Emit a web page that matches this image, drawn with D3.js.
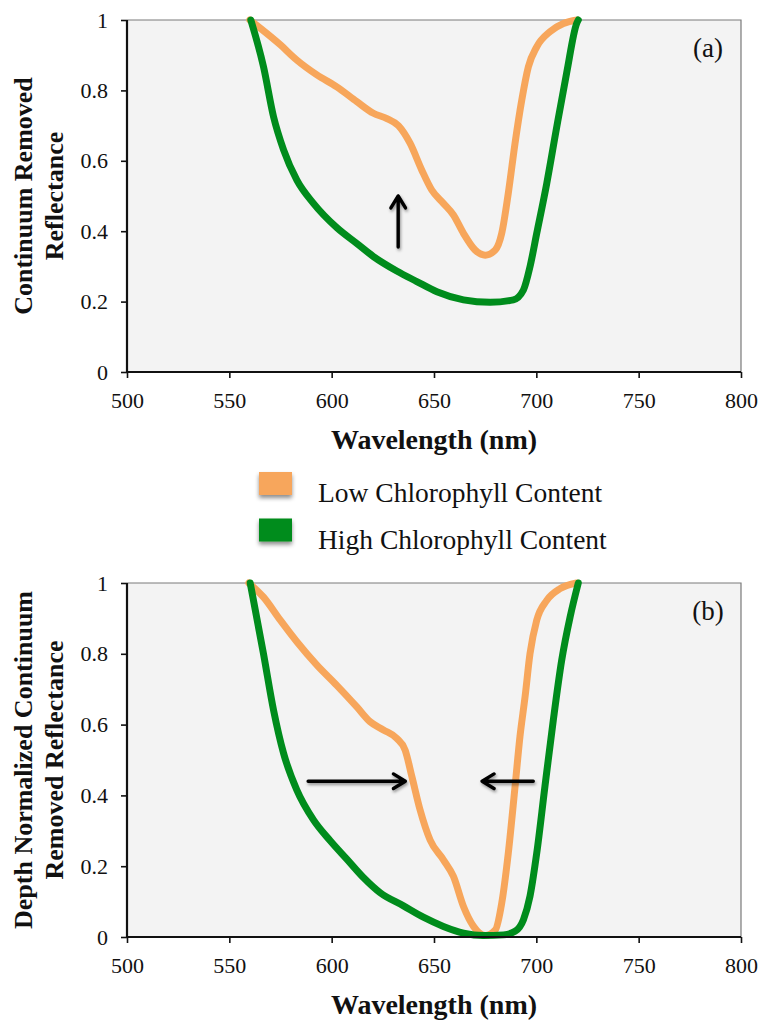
<!DOCTYPE html>
<html>
<head>
<meta charset="utf-8">
<script src="https://cdn.jsdelivr.net/npm/d3@7"></script>
<style>
  html, body { margin: 0; padding: 0; background: #fff; }
  svg { display: block; font-family: "Liberation Serif", "Times New Roman", serif; }
</style>
</head>
<body>
<svg id="chart" width="763" height="1020"></svg>
<script>
// Wavelength (nm) / reflectance samples for each curve
const lowA_wl  = [560, 575, 583, 592.8, 602.5, 612.3, 620.4, 627, 632.6, 638.3, 644, 648.9, 654.6, 659.5, 664.4, 670, 675, 680, 683.1, 686.3, 689.6, 692.9, 696.1, 700.2, 706.7, 713.2, 720];
const lowA_val = [1.0, 0.929, 0.886, 0.844, 0.81, 0.768, 0.735, 0.72, 0.70, 0.65, 0.574, 0.517, 0.479, 0.446, 0.394, 0.347, 0.332, 0.347, 0.394, 0.508, 0.65, 0.773, 0.867, 0.924, 0.967, 0.99, 1.0];

const highA_wl  = [560.5, 566.7, 571.6, 576.5, 583, 591.1, 602.5, 612.3, 620.4, 631.8, 641.6, 651.4, 664.4, 677.4, 688.8, 693.7, 696.9, 700.2, 705.1, 710, 714.8, 719.7, 720.5];
const highA_val = [1.0, 0.867, 0.725, 0.631, 0.545, 0.479, 0.41, 0.365, 0.328, 0.287, 0.257, 0.228, 0.205, 0.198, 0.205, 0.233, 0.299, 0.394, 0.536, 0.697, 0.849, 0.99, 1.0];

const lowB_wl  = [559.5, 566.7, 574.9, 583, 592.8, 602.5, 612.3, 618.8, 625.3, 631.8, 635.9, 639.2, 643.2, 648.1, 654.6, 659.5, 664.4, 669.3, 675, 680, 683.1, 686.3, 689.6, 692, 694.5, 696.9, 700.2, 705.1, 711.6, 719.7];
const lowB_val = [1.0, 0.96, 0.895, 0.834, 0.768, 0.711, 0.65, 0.608, 0.585, 0.561, 0.528, 0.453, 0.359, 0.274, 0.218, 0.171, 0.086, 0.03, 0.004, 0.02, 0.096, 0.237, 0.425, 0.566, 0.679, 0.80, 0.895, 0.951, 0.984, 1.0];

const highB_wl  = [560.2, 566.7, 571.6, 576.5, 583, 591.1, 599.3, 607.4, 615.5, 623.7, 635.1, 644.8, 654.6, 664.4, 674.1, 683.9, 689.6, 693.7, 696.9, 700.2, 704.2, 708.3, 712.4, 716.5, 720.5];
const highB_val = [1.0, 0.80, 0.641, 0.519, 0.415, 0.331, 0.272, 0.22, 0.168, 0.125, 0.088, 0.056, 0.03, 0.011, 0.004, 0.006, 0.016, 0.049, 0.115, 0.237, 0.425, 0.613, 0.782, 0.904, 1.0];

const xTicks = [500, 550, 600, 650, 700, 750, 800];
const yTicks = [0, 0.2, 0.4, 0.6, 0.8, 1];
const seriesNames = ["Low Chlorophyll Content", "High Chlorophyll Content"];
const seriesColors = ["#F7A65B", "#008C1C"];

// Arrow annotations: [x1, y1, x2, y2] in data units
const arrowsA = [[632.5, 0.355, 632.5, 0.5]];
const arrowsB = [[588.5, 0.44, 636, 0.44], [698.5, 0.44, 673.5, 0.44]];

const svg = d3.select("#chart");
const defs = svg.append("defs");

const shadow = defs.append("filter").attr("id", "shadow")
  .attr("x", "-30%").attr("y", "-30%").attr("width", "160%").attr("height", "180%");
shadow.append("feDropShadow").attr("dx", 0).attr("dy", 3).attr("stdDeviation", 2)
  .attr("flood-color", "#000").attr("flood-opacity", 0.45);

// user-space region so thin horizontal/vertical arrows keep their shadow
const arrowShadow = defs.append("filter").attr("id", "arrowShadow")
  .attr("filterUnits", "userSpaceOnUse")
  .attr("x", 0).attr("y", 0).attr("width", 763).attr("height", 1020);
arrowShadow.append("feDropShadow").attr("dx", 1).attr("dy", 2).attr("stdDeviation", 1.5)
  .attr("flood-color", "#000").attr("flood-opacity", 0.4);

function panel(opts) {
  const x = d3.scaleLinear().domain([500, 800]).range([127, 741]);
  const y = d3.scaleLinear().domain([0, 1]).range([opts.bottom, opts.top]);
  const g = svg.append("g");

  g.append("rect")
    .attr("x", x(500)).attr("y", y(1))
    .attr("width", x(800) - x(500)).attr("height", y(0) - y(1))
    .attr("fill", "#f3f3f3");

  // top and right frame
  g.append("path")
    .attr("d", `M${x(500)},${y(1)} H${x(800)} V${y(0)}`)
    .attr("fill", "none").attr("stroke", "#7a7a7a").attr("stroke-width", 1.2);

  const line = d3.line().x(d => x(d[0])).y(d => y(d[1])).curve(d3.curveMonotoneX);

  opts.series.forEach(s => {
    const pts = d3.zip(s.wl, s.val);
    g.append("path").datum(pts)
      .attr("d", line)
      .attr("fill", "none")
      .attr("stroke", seriesColors[s.idx])
      .attr("stroke-width", 7)
      .attr("stroke-linejoin", "round")
      .attr("stroke-linecap", "round");
  });

  const xAxis = d3.axisBottom(x).tickValues(xTicks).tickSize(6).tickPadding(14).tickFormat(d3.format("d"));
  const yAxis = d3.axisLeft(y).tickValues(yTicks).tickSize(6).tickPadding(13).tickFormat(d => d === 0 || d === 1 ? String(d) : d3.format(".1f")(d));

  const gx = g.append("g").attr("transform", `translate(0,${y(0)})`).call(xAxis);
  const gy = g.append("g").attr("transform", `translate(${x(500)},0)`).call(yAxis);
  [gx, gy].forEach(a => {
    a.select(".domain").attr("stroke", "#111").attr("stroke-width", 2.2);
    a.selectAll(".tick line").attr("stroke", "#111").attr("stroke-width", 1.6);
    a.selectAll(".tick text").attr("fill", "#111")
      .style("font-family", "'Liberation Serif', serif").style("font-size", "22px");
  });
  gx.select(".domain").attr("d", `M${x(500)},0H${x(800)}`);
  gy.select(".domain").attr("d", `M0,${y(0)}V${y(1)}`);

  // arrows: shaft plus open chevron head
  opts.arrows.forEach(a => {
    const x1 = x(a[0]), y1 = y(a[1]), x2 = x(a[2]), y2 = y(a[3]);
    const ang = Math.atan2(y2 - y1, x2 - x1);
    const hl = 14, hw = 0.55;
    const p1 = [x2 - hl * Math.cos(ang - hw), y2 - hl * Math.sin(ang - hw)];
    const p2 = [x2 - hl * Math.cos(ang + hw), y2 - hl * Math.sin(ang + hw)];
    const ag = g.append("g").attr("filter", "url(#arrowShadow)");
    ag.append("path")
      .attr("d", `M${x1},${y1}L${x2},${y2}M${p1[0]},${p1[1]}L${x2},${y2}L${p2[0]},${p2[1]}`)
      .attr("fill", "none").attr("stroke", "#000").attr("stroke-width", 3.4)
      .attr("stroke-linecap", "round").attr("stroke-linejoin", "round");
  });

  // panel label
  g.append("text")
    .attr("x", 708).attr("y", y(1) + 37)
    .attr("text-anchor", "middle")
    .style("font-size", "27px").attr("fill", "#111")
    .text(opts.label);

  // x title
  g.append("text")
    .attr("x", (x(500) + x(800)) / 2).attr("y", y(0) + 77)
    .attr("text-anchor", "middle")
    .style("font-size", "28px").style("font-weight", "bold").attr("fill", "#111")
    .text("Wavelength (nm)");

  // y title (two lines)
  const cy = (y(0) + y(1)) / 2;
  const yt = g.append("text")
    .attr("transform", `translate(32,${cy}) rotate(-90)`)
    .attr("text-anchor", "middle")
    .style("font-size", "26px").style("font-weight", "bold").attr("fill", "#111");
  opts.ytitle.forEach((t, i) => {
    yt.append("tspan").attr("x", 0).attr("dy", i === 0 ? 0 : 31).text(t);
  });
}

panel({
  top: 20, bottom: 372, label: "(a)",
  ytitle: ["Continuum Removed", "Reflectance"],
  series: [
    { wl: lowA_wl, val: lowA_val, idx: 0 },
    { wl: highA_wl, val: highA_val, idx: 1 }
  ],
  arrows: arrowsA
});

panel({
  top: 583, bottom: 937, label: "(b)",
  ytitle: ["Depth Normalized Continuum", "Removed Reflectance"],
  series: [
    { wl: lowB_wl, val: lowB_val, idx: 0 },
    { wl: highB_wl, val: highB_val, idx: 1 }
  ],
  arrows: arrowsB
});

// legend
const legend = svg.append("g");
seriesNames.forEach((name, i) => {
  const yy = 472 + i * 46.5;
  legend.append("rect")
    .attr("x", 259).attr("y", yy).attr("width", 33).attr("height", 23)
    .attr("fill", seriesColors[i]).attr("filter", "url(#shadow)");
  legend.append("text")
    .attr("x", 318).attr("y", yy + 30)
    .style("font-size", "27.5px").attr("fill", "#111")
    .text(name);
});
</script>
</body>
</html>
